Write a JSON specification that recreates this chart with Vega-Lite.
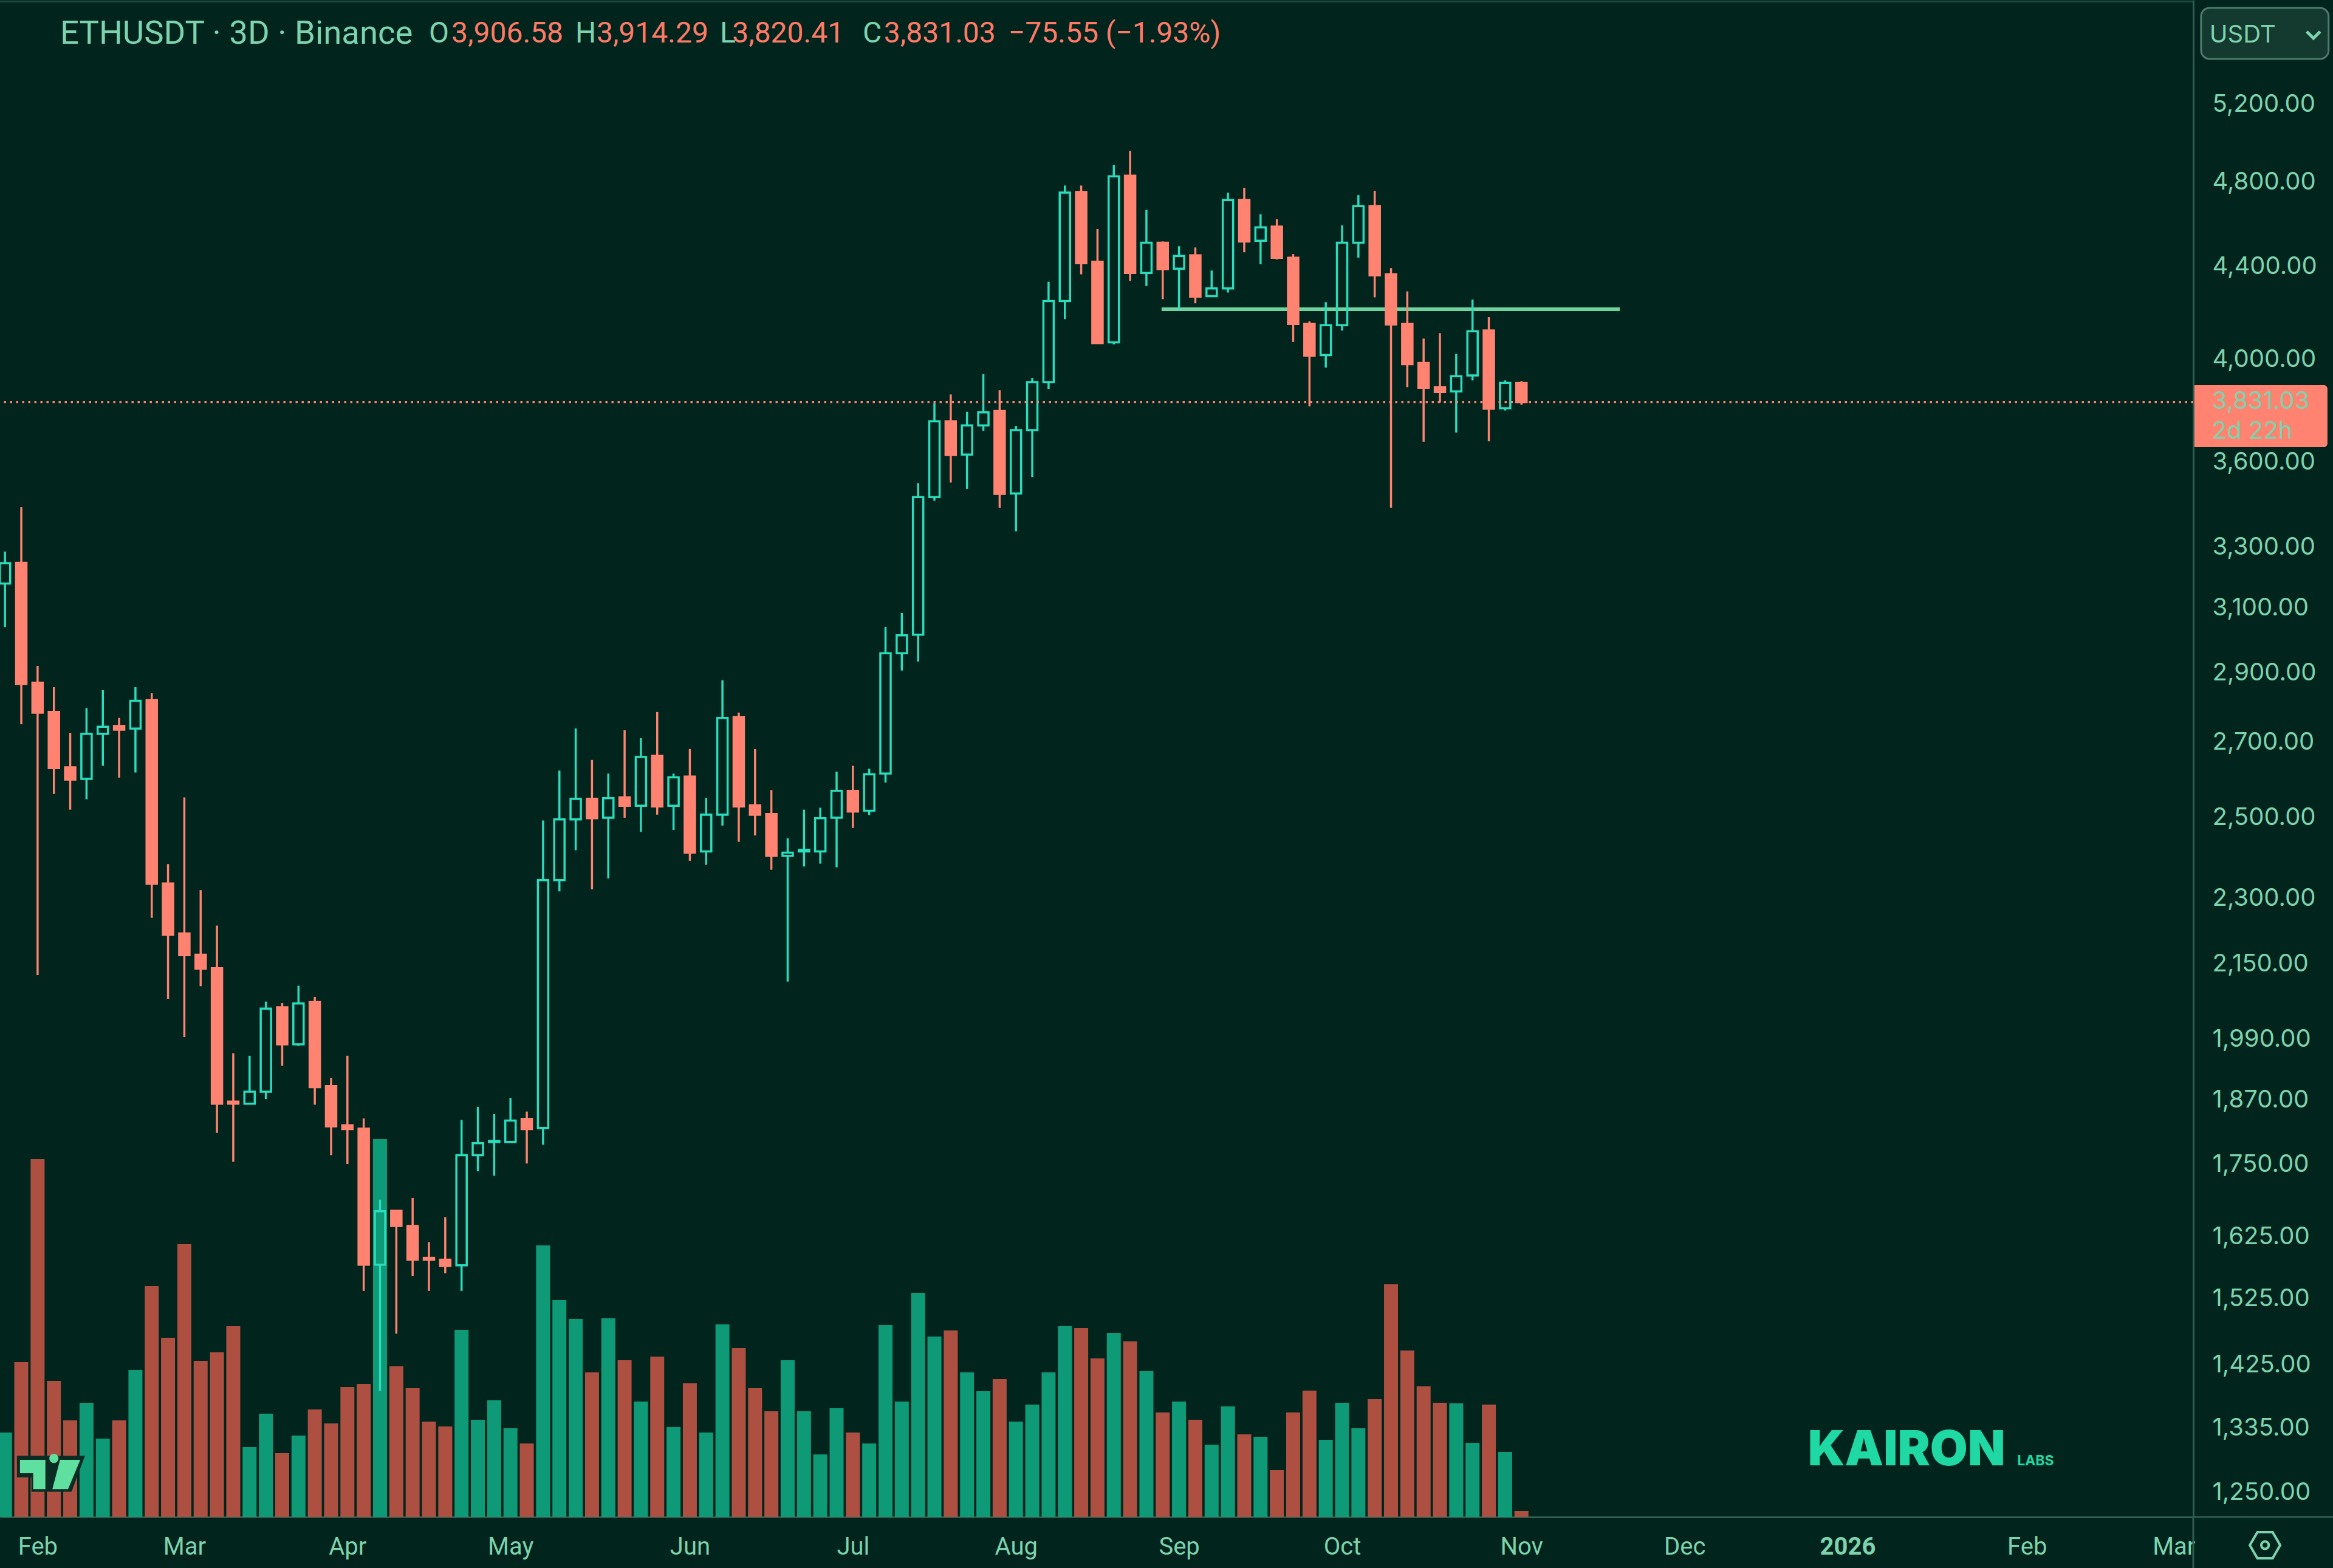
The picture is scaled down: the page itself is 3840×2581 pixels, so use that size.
{
  "$schema": "https://vega.github.io/schema/vega-lite/v6.json",
  "description": "ETHUSDT 3D candles with volume",
  "background": "#01241d",
  "width": 3610,
  "height": 2497,
  "autosize": {"type": "none"},
  "padding": {"left": 0, "top": 0, "right": 230, "bottom": 84},
  "view": {"stroke": null},
  "datasets": {
    "candles": [
      {"slot":0,"high":3286,"top":3247,"bottom":3180,"low":3041,"dir":"up","volume":139},
      {"slot":1,"high":3439,"top":3248,"bottom":2868,"low":2752,"dir":"down","volume":255},
      {"slot":2,"high":2922,"top":2872,"bottom":2785,"low":2127,"dir":"down","volume":589},
      {"slot":3,"high":2859,"top":2787,"bottom":2631,"low":2562,"dir":"down","volume":224},
      {"slot":4,"high":2727,"top":2633,"bottom":2600,"low":2521,"dir":"down","volume":159},
      {"slot":5,"high":2798,"top":2725,"bottom":2602,"low":2548,"dir":"up","volume":188},
      {"slot":6,"high":2850,"top":2745,"bottom":2725,"low":2637,"dir":"up","volume":129},
      {"slot":7,"high":2770,"top":2747,"bottom":2737,"low":2605,"dir":"down","volume":159},
      {"slot":8,"high":2859,"top":2819,"bottom":2740,"low":2619,"dir":"up","volume":242},
      {"slot":9,"high":2841,"top":2821,"bottom":2336,"low":2256,"dir":"down","volume":380},
      {"slot":10,"high":2384,"top":2337,"bottom":2217,"low":2076,"dir":"down","volume":295},
      {"slot":11,"high":2553,"top":2220,"bottom":2171,"low":1996,"dir":"down","volume":449},
      {"slot":12,"high":2321,"top":2172,"bottom":2141,"low":2103,"dir":"down","volume":257},
      {"slot":13,"high":2238,"top":2142,"bottom":1864,"low":1809,"dir":"down","volume":271},
      {"slot":14,"high":1963,"top":1868,"bottom":1864,"low":1756,"dir":"down","volume":314},
      {"slot":15,"high":1958,"top":1887,"bottom":1864,"low":1864,"dir":"up","volume":115},
      {"slot":16,"high":2070,"top":2055,"bottom":1887,"low":1873,"dir":"up","volume":170},
      {"slot":17,"high":2067,"top":2058,"bottom":1981,"low":1938,"dir":"down","volume":105},
      {"slot":18,"high":2104,"top":2066,"bottom":1981,"low":1978,"dir":"up","volume":134},
      {"slot":19,"high":2080,"top":2069,"bottom":1896,"low":1862,"dir":"down","volume":177},
      {"slot":20,"high":1914,"top":1898,"bottom":1821,"low":1768,"dir":"down","volume":154},
      {"slot":21,"high":1958,"top":1823,"bottom":1816,"low":1752,"dir":"down","volume":214},
      {"slot":22,"high":1836,"top":1817,"bottom":1580,"low":1538,"dir":"down","volume":219},
      {"slot":23,"high":1689,"top":1669,"bottom":1580,"low":1388,"dir":"up","volume":622},
      {"slot":24,"high":1670,"top":1670,"bottom":1644,"low":1472,"dir":"down","volume":248},
      {"slot":25,"high":1692,"top":1644,"bottom":1588,"low":1562,"dir":"down","volume":212},
      {"slot":26,"high":1617,"top":1591,"bottom":1588,"low":1538,"dir":"down","volume":157},
      {"slot":27,"high":1659,"top":1588,"bottom":1578,"low":1566,"dir":"down","volume":149},
      {"slot":28,"high":1833,"top":1768,"bottom":1579,"low":1538,"dir":"up","volume":308},
      {"slot":29,"high":1858,"top":1790,"bottom":1768,"low":1739,"dir":"up","volume":160},
      {"slot":30,"high":1844,"top":1794,"bottom":1792,"low":1731,"dir":"up","volume":192},
      {"slot":31,"high":1875,"top":1832,"bottom":1792,"low":1792,"dir":"up","volume":146},
      {"slot":32,"high":1849,"top":1835,"bottom":1816,"low":1753,"dir":"down","volume":121},
      {"slot":33,"high":2493,"top":2345,"bottom":1818,"low":1787,"dir":"up","volume":447},
      {"slot":34,"high":2624,"top":2496,"bottom":2345,"low":2318,"dir":"up","volume":357},
      {"slot":35,"high":2740,"top":2549,"bottom":2496,"low":2418,"dir":"up","volume":326},
      {"slot":36,"high":2653,"top":2549,"bottom":2499,"low":2323,"dir":"down","volume":238},
      {"slot":37,"high":2616,"top":2551,"bottom":2500,"low":2349,"dir":"up","volume":327},
      {"slot":38,"high":2735,"top":2553,"bottom":2531,"low":2500,"dir":"down","volume":258},
      {"slot":39,"high":2713,"top":2661,"bottom":2531,"low":2464,"dir":"up","volume":190},
      {"slot":40,"high":2787,"top":2664,"bottom":2529,"low":2508,"dir":"down","volume":264},
      {"slot":41,"high":2616,"top":2606,"bottom":2531,"low":2469,"dir":"up","volume":148},
      {"slot":42,"high":2683,"top":2608,"bottom":2412,"low":2392,"dir":"down","volume":220},
      {"slot":43,"high":2551,"top":2508,"bottom":2415,"low":2382,"dir":"up","volume":139},
      {"slot":44,"high":2879,"top":2770,"bottom":2508,"low":2480,"dir":"up","volume":317},
      {"slot":45,"high":2785,"top":2772,"bottom":2529,"low":2439,"dir":"down","volume":278},
      {"slot":46,"high":2683,"top":2532,"bottom":2508,"low":2455,"dir":"down","volume":212},
      {"slot":47,"high":2572,"top":2510,"bottom":2404,"low":2370,"dir":"down","volume":174},
      {"slot":48,"high":2448,"top":2412,"bottom":2404,"low":2113,"dir":"up","volume":258},
      {"slot":49,"high":2521,"top":2419,"bottom":2415,"low":2378,"dir":"up","volume":174},
      {"slot":50,"high":2526,"top":2499,"bottom":2415,"low":2385,"dir":"up","volume":103},
      {"slot":51,"high":2621,"top":2570,"bottom":2500,"low":2376,"dir":"up","volume":179},
      {"slot":52,"high":2637,"top":2570,"bottom":2516,"low":2474,"dir":"down","volume":139},
      {"slot":53,"high":2629,"top":2614,"bottom":2518,"low":2507,"dir":"up","volume":121},
      {"slot":54,"high":3041,"top":2960,"bottom":2616,"low":2592,"dir":"up","volume":316},
      {"slot":55,"high":3085,"top":3015,"bottom":2960,"low":2908,"dir":"up","volume":190},
      {"slot":56,"high":3525,"top":3475,"bottom":3017,"low":2935,"dir":"up","volume":369},
      {"slot":57,"high":3827,"top":3756,"bottom":3475,"low":3462,"dir":"up","volume":297},
      {"slot":58,"high":3861,"top":3756,"bottom":3628,"low":3527,"dir":"down","volume":307},
      {"slot":59,"high":3793,"top":3740,"bottom":3630,"low":3504,"dir":"up","volume":238},
      {"slot":60,"high":3942,"top":3791,"bottom":3740,"low":3720,"dir":"up","volume":207},
      {"slot":61,"high":3878,"top":3796,"bottom":3486,"low":3437,"dir":"down","volume":227},
      {"slot":62,"high":3738,"top":3722,"bottom":3488,"low":3355,"dir":"up","volume":157},
      {"slot":63,"high":3927,"top":3910,"bottom":3722,"low":3547,"dir":"up","volume":185},
      {"slot":64,"high":4335,"top":4250,"bottom":3910,"low":3883,"dir":"up","volume":238},
      {"slot":65,"high":4785,"top":4750,"bottom":4250,"low":4172,"dir":"up","volume":314},
      {"slot":66,"high":4785,"top":4753,"bottom":4418,"low":4368,"dir":"down","volume":311},
      {"slot":67,"high":4576,"top":4424,"bottom":4070,"low":4067,"dir":"down","volume":261},
      {"slot":68,"high":4886,"top":4830,"bottom":4073,"low":4065,"dir":"up","volume":303},
      {"slot":69,"high":4958,"top":4833,"bottom":4374,"low":4338,"dir":"down","volume":289},
      {"slot":70,"high":4667,"top":4512,"bottom":4374,"low":4316,"dir":"up","volume":240},
      {"slot":71,"high":4518,"top":4512,"bottom":4391,"low":4258,"dir":"down","volume":172},
      {"slot":72,"high":4496,"top":4451,"bottom":4393,"low":4214,"dir":"up","volume":190},
      {"slot":73,"high":4490,"top":4454,"bottom":4269,"low":4240,"dir":"down","volume":160},
      {"slot":74,"high":4385,"top":4305,"bottom":4271,"low":4271,"dir":"up","volume":119},
      {"slot":75,"high":4750,"top":4714,"bottom":4305,"low":4287,"dir":"up","volume":182},
      {"slot":76,"high":4773,"top":4714,"bottom":4518,"low":4468,"dir":"down","volume":136},
      {"slot":77,"high":4646,"top":4584,"bottom":4521,"low":4413,"dir":"up","volume":132},
      {"slot":78,"high":4622,"top":4587,"bottom":4443,"low":4435,"dir":"down","volume":77},
      {"slot":79,"high":4460,"top":4443,"bottom":4151,"low":4075,"dir":"down","volume":172},
      {"slot":80,"high":4162,"top":4151,"bottom":4018,"low":3814,"dir":"down","volume":208},
      {"slot":81,"high":4245,"top":4146,"bottom":4020,"low":3969,"dir":"up","volume":127},
      {"slot":82,"high":4593,"top":4512,"bottom":4146,"low":4123,"dir":"up","volume":188},
      {"slot":83,"high":4738,"top":4685,"bottom":4512,"low":4443,"dir":"up","volume":146},
      {"slot":84,"high":4759,"top":4685,"bottom":4363,"low":4266,"dir":"down","volume":194},
      {"slot":85,"high":4396,"top":4368,"bottom":4149,"low":3437,"dir":"down","volume":383},
      {"slot":86,"high":4292,"top":4151,"bottom":3983,"low":3890,"dir":"down","volume":274},
      {"slot":87,"high":4089,"top":3988,"bottom":3888,"low":3678,"dir":"down","volume":215},
      {"slot":88,"high":4112,"top":3890,"bottom":3871,"low":3829,"dir":"down","volume":188},
      {"slot":89,"high":4025,"top":3934,"bottom":3873,"low":3713,"dir":"up","volume":187},
      {"slot":90,"high":4256,"top":4120,"bottom":3937,"low":3917,"dir":"up","volume":122},
      {"slot":91,"high":4180,"top":4123,"bottom":3805,"low":3680,"dir":"down","volume":185},
      {"slot":92,"high":3917,"top":3907,"bottom":3807,"low":3798,"dir":"up","volume":107},
      {"slot":93,"high":3914.29,"top":3906.58,"bottom":3831.03,"low":3820.41,"dir":"down","volume":10}
    ],
    "levels": [{"start":70.93,"end":99.03,"level":4214}],
    "one": [{}]
  },
  "layer": [
    {
      "data": {"name": "candles"},
      "mark": {"type": "bar", "size": 23},
      "encoding": {
        "x": {
          "field": "slot",
          "type": "quantitative",
          "title": null,
          "scale": {"domain": [-0.3055, 134.2], "nice": false, "zero": false, "padding": 0},
          "axis": {
            "values": [2, 11, 21, 31, 42, 52, 62, 72, 82, 93, 103, 113, 124, 133],
            "labelExpr": "({'2':'Feb','11':'Mar','21':'Apr','31':'May','42':'Jun','52':'Jul','62':'Aug','72':'Sep','82':'Oct','93':'Nov','103':'Dec','113':'2026','124':'Feb','133':'Mar'})[datum.value]",
            "labelFont": "Roboto",
            "labelFontSize": 40,
            "labelFontWeight": {"condition": {"test": "datum.value == 113", "value": "bold"}, "value": "normal"},
            "labelColor": "#7dd3ae",
            "labelPadding": 29,
            "labelOverlap": false,
            "labelFlush": false,
            "labelBound": false,
            "ticks": false,
            "grid": false,
            "domainColor": "#2f5d50",
            "domainWidth": 3
          }
        },
        "y": {
          "field": "volume",
          "type": "quantitative",
          "stack": null,
          "scale": {"domain": [0, 2497], "nice": false},
          "axis": null
        },
        "color": {
          "field": "dir",
          "type": "nominal",
          "scale": {"domain": ["up", "down"], "range": ["#0f9a77", "#ad5042"]},
          "legend": null
        }
      }
    },
    {
      "layer": [
        {
          "data": {"name": "levels"},
          "mark": {"type": "rule", "color": "#6fd3a0", "strokeWidth": 6},
          "encoding": {
            "x": {"field": "start", "type": "quantitative", "title": null},
            "x2": {"field": "end"},
            "y": {
              "field": "level",
              "type": "quantitative",
              "title": null,
              "scale": {"type": "log", "domain": [1219.4, 5789], "nice": false, "zero": false},
              "axis": {
                "orient": "right",
                "values": [5200, 4800, 4400, 4000, 3600, 3300, 3100, 2900, 2700, 2500, 2300, 2150, 1990, 1870, 1750, 1625, 1525, 1425, 1335, 1250],
                "format": ",.2f",
                "labelFont": "Inter",
                "labelFontSize": 40,
                "labelColor": "#7dd3ae",
                "labelPadding": 31,
                "labelOffset": -1,
                "labelOverlap": false,
                "labelBound": false,
                "labelFlush": false,
                "ticks": false,
                "grid": false,
                "domainColor": "#2f5d50",
                "domainWidth": 3
              }
            }
          }
        },
        {
          "data": {"name": "candles"},
          "mark": {"type": "rule", "strokeWidth": 3.5},
          "encoding": {
            "x": {"field": "slot", "type": "quantitative"},
            "y": {"field": "high", "type": "quantitative"},
            "y2": {"field": "top"},
            "stroke": {"field": "dir", "type": "nominal", "scale": {"domain": ["up", "down"], "range": ["#2bdcbd", "#ff8370"]}, "legend": null}
          }
        },
        {
          "data": {"name": "candles"},
          "mark": {"type": "rule", "strokeWidth": 3.5},
          "encoding": {
            "x": {"field": "slot", "type": "quantitative"},
            "y": {"field": "bottom", "type": "quantitative"},
            "y2": {"field": "low"},
            "stroke": {"field": "dir", "type": "nominal", "scale": {"domain": ["up", "down"], "range": ["#2bdcbd", "#ff8370"]}, "legend": null}
          }
        },
        {
          "data": {"name": "candles"},
          "mark": {"type": "bar", "size": 17, "strokeWidth": 3.5},
          "encoding": {
            "x": {"field": "slot", "type": "quantitative"},
            "y": {"field": "top", "type": "quantitative"},
            "y2": {"field": "bottom"},
            "fill": {"field": "dir", "type": "nominal", "scale": {"domain": ["up", "down"], "range": ["transparent", "#ff8370"]}, "legend": null},
            "stroke": {"field": "dir", "type": "nominal", "scale": {"domain": ["up", "down"], "range": ["#2bdcbd", "#ff8370"]}, "legend": null}
          }
        },
        {
          "data": {"name": "one"},
          "mark": {"type": "rule", "color": "#ff8370", "strokeWidth": 3.5, "strokeDash": [3.5, 6.5]},
          "encoding": {"y": {"datum": 3831.03}}
        },
        {
          "data": {"name": "one"},
          "mark": {"type": "rule", "color": "#1d4a3e", "strokeWidth": 3},
          "encoding": {"y": {"datum": 5780}}
        },
        {
          "data": {"name": "one"},
          "mark": {"type": "rule", "color": "#2f5d50", "strokeWidth": 3},
          "encoding": {"x": {"datum": 134.2}, "x2": {"datum": 143.1}, "y": {"datum": 1219.4}}
        },
        {
          "data": {"name": "one"},
          "mark": {"type": "rule", "color": "#2f5d50", "strokeWidth": 3},
          "encoding": {"x": {"datum": 134.2}, "y": {"datum": 1219.4}, "y2": {"datum": 1157}}
        },
        {
          "data": {"name": "one"},
          "mark": {"type": "rect", "fill": "#143a30", "stroke": "#4f7b6a", "strokeWidth": 3, "cornerRadius": 14},
          "encoding": {"x": {"datum": 134.68}, "x2": {"datum": 142.5}, "y": {"datum": 5742}, "y2": {"datum": 5449}}
        },
        {
          "data": {"name": "one"},
          "mark": {"type": "text", "text": "USDT", "align": "left", "baseline": "middle", "font": "Inter", "fontSize": 40, "color": "#7dd3ae"},
          "encoding": {"x": {"datum": 135.2}, "y": {"datum": 5585}}
        },
        {
          "data": {"name": "one"},
          "mark": {"type": "point", "shape": "M-1,-0.5 L0,0.5 L1,-0.5", "filled": false, "size": 484, "strokeWidth": 5, "stroke": "#7dd3ae", "opacity": 1},
          "encoding": {"x": {"datum": 141.57}, "y": {"datum": 5585}}
        },
        {
          "data": {"name": "one"},
          "mark": {"type": "rect", "fill": "#ff8370", "cornerRadiusTopRight": 6, "cornerRadiusBottomRight": 6},
          "encoding": {"x": {"datum": 134.27}, "x2": {"datum": 142.43}, "y": {"datum": 3898}, "y2": {"datum": 3658}}
        },
        {
          "data": {"name": "one"},
          "mark": {"type": "text", "text": "3,831.03", "align": "left", "baseline": "middle", "font": "Inter", "fontSize": 40, "color": "#7dd3ae"},
          "encoding": {"x": {"datum": 135.35}, "y": {"datum": 3832}}
        },
        {
          "data": {"name": "one"},
          "mark": {"type": "text", "text": "2d 22h", "align": "left", "baseline": "middle", "font": "Inter", "fontSize": 40, "color": "#7dd3ae"},
          "encoding": {"x": {"datum": 135.35}, "y": {"datum": 3718}}
        },
        {
          "data": {"name": "one"},
          "mark": {"type": "text", "text": "ETHUSDT · 3D · Binance", "align": "left", "baseline": "middle", "font": "Roboto", "fontSize": 54.5, "color": "#7dd3ae"},
          "encoding": {"x": {"datum": 3.38}, "y": {"datum": 5590}}
        },
        {
          "data": {"name": "one"},
          "mark": {"type": "text", "text": "O", "align": "left", "baseline": "middle", "font": "Roboto", "fontSize": 48, "color": "#7dd3ae"},
          "encoding": {"x": {"datum": 26.0}, "y": {"datum": 5590}}
        },
        {
          "data": {"name": "one"},
          "mark": {"type": "text", "text": "3,906.58", "align": "left", "baseline": "middle", "font": "Roboto", "fontSize": 48, "color": "#ff7a66"},
          "encoding": {"x": {"datum": 27.38}, "y": {"datum": 5590}}
        },
        {
          "data": {"name": "one"},
          "mark": {"type": "text", "text": "H", "align": "left", "baseline": "middle", "font": "Roboto", "fontSize": 48, "color": "#7dd3ae"},
          "encoding": {"x": {"datum": 34.98}, "y": {"datum": 5590}}
        },
        {
          "data": {"name": "one"},
          "mark": {"type": "text", "text": "3,914.29", "align": "left", "baseline": "middle", "font": "Roboto", "fontSize": 48, "color": "#ff7a66"},
          "encoding": {"x": {"datum": 36.28}, "y": {"datum": 5590}}
        },
        {
          "data": {"name": "one"},
          "mark": {"type": "text", "text": "L", "align": "left", "baseline": "middle", "font": "Roboto", "fontSize": 48, "color": "#7dd3ae"},
          "encoding": {"x": {"datum": 43.85}, "y": {"datum": 5590}}
        },
        {
          "data": {"name": "one"},
          "mark": {"type": "text", "text": "3,820.41", "align": "left", "baseline": "middle", "font": "Roboto", "fontSize": 48, "color": "#ff7a66"},
          "encoding": {"x": {"datum": 44.6}, "y": {"datum": 5590}}
        },
        {
          "data": {"name": "one"},
          "mark": {"type": "text", "text": "C", "align": "left", "baseline": "middle", "font": "Roboto", "fontSize": 48, "color": "#7dd3ae"},
          "encoding": {"x": {"datum": 52.6}, "y": {"datum": 5590}}
        },
        {
          "data": {"name": "one"},
          "mark": {"type": "text", "text": "3,831.03", "align": "left", "baseline": "middle", "font": "Roboto", "fontSize": 48, "color": "#ff7a66"},
          "encoding": {"x": {"datum": 53.9}, "y": {"datum": 5590}}
        },
        {
          "data": {"name": "one"},
          "mark": {"type": "text", "text": "−75.55 (−1.93%)", "align": "left", "baseline": "middle", "font": "Roboto", "fontSize": 48, "color": "#ff7a66"},
          "encoding": {"x": {"datum": 61.54}, "y": {"datum": 5590}}
        },
        {
          "data": {"name": "one"},
          "mark": {"type": "text", "text": "KAIRON", "align": "left", "baseline": "alphabetic", "font": "Inter", "fontSize": 80, "fontWeight": 900, "color": "#1fd8a4"},
          "encoding": {"x": {"datum": 110.57}, "y": {"datum": 1285.5}}
        },
        {
          "data": {"name": "one"},
          "mark": {"type": "text", "text": "LABS", "align": "left", "baseline": "alphabetic", "font": "Inter", "fontSize": 23, "fontWeight": 700, "color": "#1fd8a4"},
          "encoding": {"x": {"datum": 123.4}, "y": {"datum": 1285.5}}
        },
        {
          "data": {"name": "one"},
          "mark": {"type": "point", "shape": "M-1,-.536 L1,-.536 L.605,.525 L-.574,.525 L-.574,.1 L-1,.1 Z", "filled": true, "size": 12544, "color": "#0b2c24", "opacity": 1},
          "encoding": {"x": {"datum": 2.82}, "y": {"datum": 1274.5}}
        },
        {
          "data": {"name": "one"},
          "mark": {"type": "point", "shape": "M-.91,-.413 L-.164,-.413 L-.164,.447 L-.523,.447 L-.523,-.022 L-.91,-.022 Z M.267,-.413 L.861,-.413 L.502,.447 L.041,.447 Z", "filled": true, "size": 12544, "color": "#5fe0a0", "opacity": 1},
          "encoding": {"x": {"datum": 2.82}, "y": {"datum": 1274.5}}
        },
        {
          "data": {"name": "one"},
          "mark": {"type": "point", "shape": "circle", "filled": true, "size": 230, "color": "#5fe0a0", "opacity": 1},
          "encoding": {"x": {"datum": 3.0}, "y": {"datum": 1295}}
        },
        {
          "data": {"name": "one"},
          "mark": {"type": "point", "shape": "M-1,0 L-.5,-.86 L.5,-.86 L1,0 L.5,.86 L-.5,.86 Z", "filled": false, "size": 2500, "strokeWidth": 4, "stroke": "#7dd3ae", "opacity": 1},
          "encoding": {"x": {"datum": 138.6}, "y": {"datum": 1184.6}}
        },
        {
          "data": {"name": "one"},
          "mark": {"type": "point", "shape": "circle", "filled": false, "size": 150, "strokeWidth": 4, "stroke": "#7dd3ae", "opacity": 1},
          "encoding": {"x": {"datum": 138.6}, "y": {"datum": 1184.6}}
        }
      ]
    }
  ],
  "resolve": {"scale": {"y": "independent"}}
}
